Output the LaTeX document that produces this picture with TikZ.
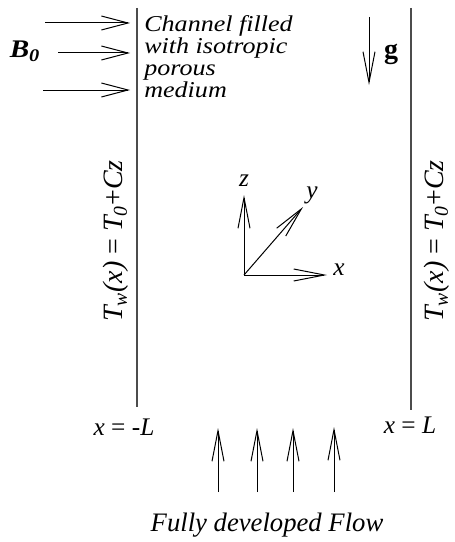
\documentclass[tikz,border=0pt]{standalone}
\usepackage{fontspec}
\setmainfont{Liberation Serif}
\usetikzlibrary{arrows.meta,positioning}
\tikzset{
  wallline/.style={line width=1pt,draw=black!70},
  longarrow/.style={-{Straight Barb[length=23pt,width=9pt]},line width=0.75pt},
  fieldarrow/.style={-{Straight Barb[length=20pt,width=10.5pt]},line width=0.75pt},
  widetext/.style={font=\fontsize{17}{16.5}\selectfont\itshape,inner sep=0pt,xscale=1.15,transform shape},
  axistext/.style={font=\fontsize{19}{19}\selectfont\itshape,inner sep=0pt},
  walltext/.style={font=\fontsize{21}{22}\selectfont\itshape,inner sep=0pt,rotate=90},
  flowtext/.style={font=\fontsize{20}{22}\selectfont\itshape,inner sep=0pt}
}

\begin{document}
\begin{tikzpicture}[x=0.75pt,y=-0.75pt]
\useasboundingbox (0,0) rectangle (454,542);
% channel walls
\coordinate (wlt) at (137,8);
\coordinate (wlb) at (137,407);
\coordinate (wrt) at (411,8);
\coordinate (wrb) at (411,410);
\draw[wallline] (wlt) -- (wlb);
\draw[wallline] (wrt) -- (wrb);
\node[walltext] (tleft) at (116,241) {T\textsubscript{w}(x)\ {\upshape =}\ T\textsubscript{0}{\upshape +}Cz};
\node[walltext] (tright) at (437,241) {T\textsubscript{w}(x)\ {\upshape =}\ T\textsubscript{0}{\upshape +}Cz};
\node[axistext] (xleft) at (124,427) {x {\upshape =} -L};
\node[axistext] (xright) at (410,425) {x {\upshape =} L};

% applied field
\node[widetext,font=\fontsize{19}{19}\selectfont\bfseries\itshape] (B0) at (25,51) {B\textsubscript{0}};
\coordinate (b1s) at (45,23);  \coordinate (b1e) at (130,23);
\coordinate (b2s) at (58,53);  \coordinate (b2e) at (130,53);
\coordinate (b3s) at (43,90);  \coordinate (b3e) at (130,90);
\draw[fieldarrow] (b1s) -- (b1e);
\draw[fieldarrow] (b2s) -- (b2e);
\draw[fieldarrow] (b3s) -- (b3e);
\node[widetext,anchor=north west,align=left] (chan) at (144,15) {Channel filled\\with isotropic\\porous\\medium};

% gravity
\coordinate (gtop) at (369,17);
\coordinate (gtip) at (369,85);
\draw[longarrow] (gtop) -- (gtip);
\node[font=\fontsize{21}{21}\selectfont\bfseries,inner sep=0pt] (g) at (391,54) {g};

% axes
\coordinate (O) at (244,275);
\node[axistext] (zlab) at (244,181) {z};
\node[axistext] (ylab) at (312,195) {y};
\node[axistext] (xlab) at (339,270) {x};
\coordinate (zend) at (244,195);
\coordinate (yend) at (303,207);
\coordinate (xend) at (327,275);
\draw[longarrow] (O) -- (zend);
\draw[longarrow] (O) -- (yend);
\draw[longarrow] (O) -- (xend);

% inflow
\coordinate (f1s) at (218,492); \coordinate (f1e) at (218,428);
\coordinate (f2s) at (257,492); \coordinate (f2e) at (257,428);
\coordinate (f3s) at (293,492); \coordinate (f3e) at (293,428);
\coordinate (f4s) at (334,492); \coordinate (f4e) at (334,427);
\draw[longarrow] (f1s) -- (f1e);
\draw[longarrow] (f2s) -- (f2e);
\draw[longarrow] (f3s) -- (f3e);
\draw[longarrow] (f4s) -- (f4e);
\node[flowtext] (flow) at (267,525) {Fully developed Flow};
\end{tikzpicture}
\end{document}
